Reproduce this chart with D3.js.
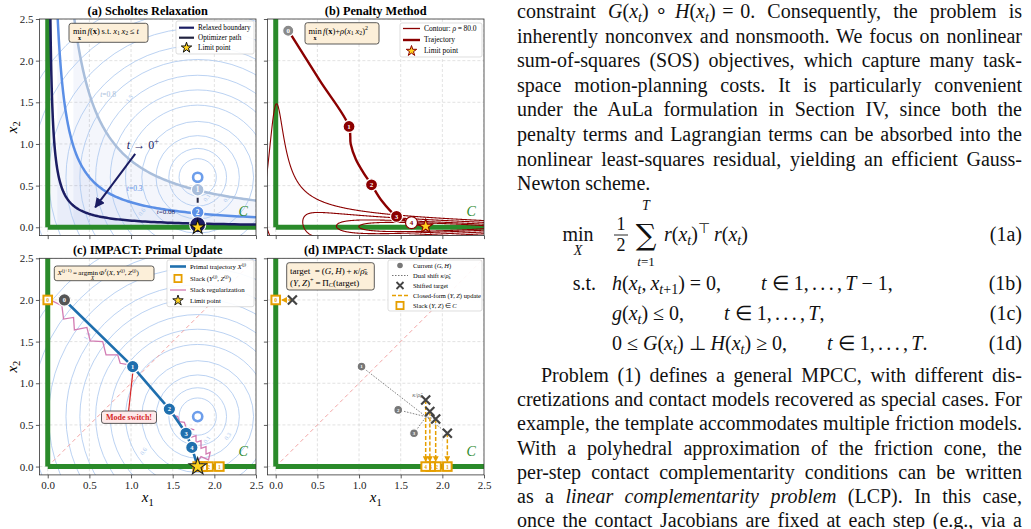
<!DOCTYPE html>
<html>
<head>
<meta charset="utf-8">
<script src="https://cdn.jsdelivr.net/npm/d3@7/dist/d3.min.js"></script>
<style>
  body { margin: 0; background: #fff; }
  svg text { font-family: "Liberation Serif", "Times New Roman", serif; }
</style>
</head>
<body>
<svg id="page" width="1031" height="529"></svg>
<script>
// ---- values ----
var ticks = [0, 0.5, 1, 1.5, 2, 2.5];
var target = [1.8, 0.6];
var fLevels = [0.05, 0.12, 0.25, 0.45, 0.75, 1.1, 1.5, 2.0, 2.5, 3.2, 4.0, 5.0];
var fLabelsA = [["0.1", 1.93, 0.34], ["0.3", 2.17, 0.33], ["0.6", 1.15, 0.17], ["1.5", 1.0, 1.53]];
var fLabelsC = [["0.1", 1.93, 0.31], ["0.3", 2.18, 0.35], ["0.6", 1.17, 0.17], ["1.5", 0.49, 1.55]];
var relaxT = [0.8, 0.3, 0.08];
var relaxLabels = ["t=0.8", "t=0.3", "t=0.08"];
var relaxLabelPos = [[0.63, 1.56], [0.95, 0.43], [1.31, 0.16]];
var scholtesIter = [[1.8, 0.45], [1.8, 0.18], [1.8, 0.03]];
var limitPoint = [1.8, 0.0];
var rho = 80;
var penaltyLevels = [1.0, 1.5, 2.5, 4.0];
var penaltyPath = [[0.19, 2.30], [0.53, 1.76], [0.88, 1.21], [0.90, 1.00], [0.96, 0.82], [1.05, 0.66],
                   [1.15, 0.51], [1.27, 0.32], [1.45, 0.13], [1.63, 0.055], [1.80, 0.01]];
var penaltyIter = [[0.15, 2.36], [0.88, 1.21], [1.15, 0.51], [1.45, 0.13], [1.63, 0.055]];
var primalIter = [[0.2, 2.0], [1.02, 1.2], [1.46, 0.69], [1.66, 0.40], [1.73, 0.23]];
var slackRegUpper = [[0.03, 2.0], [0.17, 1.93], [0.19, 1.77], [0.31, 1.79], [0.32, 1.64], [0.47, 1.67],
                     [0.51, 1.51], [0.66, 1.50], [0.70, 1.34], [0.84, 1.34], [0.87, 1.24], [0.98, 1.22]];
var slackRegLower = [[1.49, 0.62], [1.56, 0.60], [1.58, 0.54], [1.64, 0.53], [1.66, 0.47], [1.76, 0.44]];
var slackRegTail = [[1.72, 0.35], [1.78, 0.37], [1.78, 0.29], [1.84, 0.31], [1.84, 0.22], [1.90, 0.24],
                    [1.90, 0.15], [1.95, 0.17], [1.93, 0.08], [1.84, 0.12], [1.80, 0.06]];
var slackPts = [[0, 2.0], [2.06, 0], [1.93, 0], [1.86, 0], [1.80, 0]];
var currentGH = [[1.03, 1.2], [1.47, 0.68], [1.66, 0.40]];
var shiftedTarget = [[0.2, 2.0], [2.06, 0.40], [1.92, 0.57], [1.85, 0.66], [1.80, 0.80]];

var GREEN = "#2a8a2a", NAVY = "#1b1d63", ORANGE = "#e69f00", DRED = "#8b0000",
    BLUE = "#1f6fae", PINK = "#d27bb2", RING = "#a9c7ef";
var relaxColors = ["#a9bedb", "#5b8fe6", NAVY];

var svg = d3.select("#page");
var defs = svg.append("defs");

function arrowMarker(id, color, w) {
  defs.append("marker").attr("id", id).attr("viewBox", "0 0 10 10").attr("refX", 9).attr("refY", 5)
    .attr("markerWidth", w).attr("markerHeight", w).attr("orient", "auto").attr("markerUnits", "userSpaceOnUse")
    .append("path").attr("d", "M0,0 L10,5 L0,10 z").attr("fill", color);
}
arrowMarker("arNavy", NAVY, 10);
arrowMarker("arOrange", ORANGE, 6);

// text with italic / sub / sup pieces
function rich(parent, x, y, parts, size, anchor) {
  var t = parent.append("text").attr("x", x).attr("y", y).attr("text-anchor", anchor || "start")
    .style("font-size", size + "px");
  var cur = 0;
  parts.forEach(function (p) {
    if (typeof p === "string") p = { t: p };
    var off = p.sub ? size * 0.22 : p.sup ? -size * 0.4 : 0;
    var s = t.append("tspan").text(p.t);
    if (off !== cur) { s.attr("dy", off - cur); cur = off; }
    var fs = (p.sub || p.sup) ? size * 0.7 : size;
    if (p.k) fs = size * p.k;
    if (fs !== size) s.style("font-size", fs + "px");
    if (p.i) s.style("font-style", "italic");
    if (p.b) s.style("font-weight", "bold");
    if (p.f) s.style("font-family", p.f);
  });
  return t;
}
function I(t) { return { t: t, i: 1 }; }
function SB(t, it) { return { t: t, sub: 1, i: it }; }
function SP(t, it) { return { t: t, sup: 1, i: it }; }

// text pieces in a row, with "min" operators that carry a small subscript below
function chain(parent, x, y, size, segs) {
  segs.forEach(function (sg) {
    if (sg.under) {
      var m = parent.append("text").attr("x", x).attr("y", y).style("font-size", size + "px").text(sg.op || "min");
      var w = m.node().getComputedTextLength();
      var u = parent.append("text").attr("x", x + w / 2).attr("y", y + size * 0.72)
        .attr("text-anchor", "middle").style("font-size", (size * 0.72) + "px").text(sg.under);
      if (sg.b) u.style("font-weight", "bold"); else u.style("font-style", "italic");
      x += w + size * 0.15;
    } else {
      var t = rich(parent, x, y, sg, size);
      x += t.node().getComputedTextLength();
    }
  });
}

var clipN = 0;
function panel(left, top) {
  var size = 216.6;
  var p = {
    left: left, top: top, size: size,
    x: d3.scaleLinear().domain([-0.1, 2.5]).range([left, left + size]),
    y: d3.scaleLinear().domain([-0.1, 2.5]).range([top + size, top])
  };
  var id = "clip" + (clipN++);
  defs.append("clipPath").attr("id", id).append("rect")
    .attr("x", left).attr("y", top).attr("width", size).attr("height", size);
  p.g = svg.append("g");
  p.inner = p.g.append("g").attr("clip-path", "url(#" + id + ")");
  var gg = p.inner.append("g").attr("stroke", "#d6d6d6").attr("stroke-width", 0.7).attr("stroke-dasharray", "3,2");
  ticks.forEach(function (t) {
    gg.append("line").attr("x1", p.x(t)).attr("x2", p.x(t)).attr("y1", top).attr("y2", top + size);
    gg.append("line").attr("y1", p.y(t)).attr("y2", p.y(t)).attr("x1", left).attr("x2", left + size);
  });
  return p;
}

function rings(p, labels) {
  p.inner.append("g").selectAll("circle").data(fLevels).enter().append("circle")
    .attr("cx", p.x(target[0])).attr("cy", p.y(target[1]))
    .attr("r", function (d) { return p.x(target[0] + Math.sqrt(d)) - p.x(target[0]); })
    .attr("fill", "none").attr("stroke", RING).attr("stroke-width", 0.8);
  labels.forEach(function (l) {
    p.inner.append("text").attr("x", p.x(l[1])).attr("y", p.y(l[2])).attr("text-anchor", "middle")
      .attr("transform", "rotate(-55," + p.x(l[1]) + "," + p.y(l[2]) + ")")
      .style("font-size", "6px").attr("fill", RING).text(l[0]);
  });
}

function feasibleSet(p) {
  p.inner.append("line").attr("x1", p.x(0)).attr("x2", p.x(0)).attr("y1", p.y(0)).attr("y2", p.y(2.5))
    .attr("stroke", GREEN).attr("stroke-width", 5);
  p.inner.append("line").attr("x1", p.x(0)).attr("x2", p.x(2.5)).attr("y1", p.y(0)).attr("y2", p.y(0))
    .attr("stroke", GREEN).attr("stroke-width", 5);
  p.g.append("text").attr("x", p.x(2.29)).attr("y", p.y(0.13)).style("font-size", "14px")
    .style("font-style", "italic").attr("fill", GREEN).text("C");
}

function diagonal(p) {
  p.inner.append("line").attr("x1", p.x(0)).attr("y1", p.y(0)).attr("x2", p.x(2.5)).attr("y2", p.y(2.5))
    .attr("stroke", "#f2a5a5").attr("stroke-width", 1).attr("stroke-dasharray", "4,3");
}

function frame(p, title, showX, showY) {
  p.g.append("rect").attr("x", p.left).attr("y", p.top).attr("width", p.size).attr("height", p.size)
    .attr("fill", "none").attr("stroke", "#333").attr("stroke-width", 0.8);
  var fmt = d3.format(".1f");
  var ax = p.g.append("g").attr("transform", "translate(0," + (p.top + p.size) + ")")
    .call(d3.axisBottom(p.x).tickValues(ticks).tickSize(3.5).tickPadding(2.5).tickFormat(showX ? fmt : ""));
  var ay = p.g.append("g").attr("transform", "translate(" + p.left + ",0)")
    .call(d3.axisLeft(p.y).tickValues(ticks).tickSize(3.5).tickPadding(2.5).tickFormat(showY ? fmt : ""));
  [ax, ay].forEach(function (a) {
    a.select(".domain").remove();
    a.selectAll("line").attr("stroke", "#333").attr("stroke-width", 0.8);
    a.selectAll("text").attr("fill", "#222").style("font-size", "11px");
  });
  var cx = p.left + p.size / 2, cy = p.top + p.size / 2;
  p.g.append("text").attr("x", cx).attr("y", p.top - 4.5).attr("text-anchor", "middle")
    .style("font-size", "12.3px").style("font-weight", "bold").text(title);
  if (showX) rich(p.g, cx, p.top + p.size + 27.5, [I("x"), SB("1")], 15, "middle");
  if (showY) rich(p.g, 0, 0, [I("x"), SB("2")], 15, "middle")
    .attr("transform", "translate(17," + cy + ") rotate(-90)");
}

function starSize(r) { return r * r / 0.8908; }
function star(p, pt, r, stroke) {
  p.g.append("path").attr("d", d3.symbol(d3.symbolStar, starSize(r))())
    .attr("transform", "translate(" + p.x(pt[0]) + "," + p.y(pt[1]) + ")")
    .attr("fill", "#ffd21f").attr("stroke", stroke).attr("stroke-width", 1.1);
}
function numbered(p, pt, label, fill, r, fsize, stroke, txt) {
  var g = p.g.append("g").attr("transform", "translate(" + p.x(pt[0]) + "," + p.y(pt[1]) + ")");
  g.append("circle").attr("r", r).attr("fill", fill).attr("stroke", stroke || "#fff").attr("stroke-width", 1.2);
  g.append("text").attr("text-anchor", "middle").attr("dy", "0.35em").style("font-size", fsize + "px")
    .style("font-weight", "bold").attr("fill", txt || "#fff").text(label);
}
function hollowTarget(p) {
  p.g.append("circle").attr("cx", p.x(target[0])).attr("cy", p.y(target[1])).attr("r", 4.6)
    .attr("fill", "none").attr("stroke", "#6d9eeb").attr("stroke-width", 2.6);
}
function slackSquare(p, pt, label) {
  var g = p.g.append("g").attr("transform", "translate(" + p.x(pt[0]) + "," + p.y(pt[1]) + ")");
  g.append("rect").attr("x", -4.3).attr("y", -4.3).attr("width", 8.6).attr("height", 8.6)
    .attr("fill", "#fff").attr("stroke", ORANGE).attr("stroke-width", 2);
  g.append("text").attr("text-anchor", "middle").attr("dy", "0.35em").style("font-size", "5.5px")
    .style("font-weight", "bold").attr("fill", ORANGE).text(label);
}
function cross(parent, cx, cy, h, color, w) {
  parent.append("path").attr("d", "M" + (cx - h) + "," + (cy - h) + "L" + (cx + h) + "," + (cy + h) +
    "M" + (cx - h) + "," + (cy + h) + "L" + (cx + h) + "," + (cy - h))
    .attr("stroke", color).attr("stroke-width", w).attr("fill", "none");
}
function noteBox(parent, x, y, w, h, fill) {
  parent.append("rect").attr("x", x).attr("y", y).attr("width", w).attr("height", h).attr("rx", 2.5)
    .attr("fill", fill || "#fcefd9").attr("stroke", "#333").attr("stroke-width", 0.8);
}

// legend: rows = [{sym, color, label parts}]
function legend(parent, box, rows, rowY, symX, txtX, size) {
  parent.append("rect").attr("x", box[0]).attr("y", box[1]).attr("width", box[2]).attr("height", box[3])
    .attr("rx", 2).attr("fill", "#fff").attr("fill-opacity", 0.9).attr("stroke", "#d0d0d0").attr("stroke-width", 0.7);
  rows.forEach(function (r, i) {
    var yy = rowY[i], mid = (symX[0] + symX[1]) / 2;
    if (r.sym === "line") {
      parent.append("line").attr("x1", symX[0]).attr("x2", symX[1]).attr("y1", yy).attr("y2", yy)
        .attr("stroke", r.color).attr("stroke-width", r.w).attr("stroke-dasharray", r.dash || null);
    } else if (r.sym === "star") {
      parent.append("path").attr("d", d3.symbol(d3.symbolStar, starSize(5.5))())
        .attr("transform", "translate(" + mid + "," + yy + ")").attr("fill", "#ffd21f")
        .attr("stroke", r.color).attr("stroke-width", 1);
    } else if (r.sym === "square") {
      parent.append("rect").attr("x", mid - 3.6).attr("y", yy - 3.6).attr("width", 7.2).attr("height", 7.2)
        .attr("fill", "#fff").attr("stroke", r.color).attr("stroke-width", 1.8);
    } else if (r.sym === "dot") {
      parent.append("circle").attr("cx", mid).attr("cy", yy).attr("r", 2.8).attr("fill", r.color);
    } else if (r.sym === "x") {
      cross(parent, mid, yy, 3.5, r.color, 1.8);
    }
    rich(parent, txtX, yy + size * 0.33, r.label, size);
  });
}

// ================= (a) Scholtes relaxation =================
var pa = panel(39.4, 19);
function hyperbola(t) {
  var a = t / 2.6, pts = [];
  for (var k = 0; k <= 150; k++) { var u = a * Math.pow(2.6 / a, k / 150); pts.push([u, t / u]); }
  return pts;
}
relaxT.forEach(function (t) {
  pa.inner.append("path").datum(hyperbola(t))
    .attr("d", d3.area().x(function (d) { return pa.x(d[0]); }).y0(pa.y(0)).y1(function (d) { return pa.y(d[1]); }))
    .attr("fill", "#3c5fc0").attr("fill-opacity", 0.055);
});
rings(pa, fLabelsA);
feasibleSet(pa);
relaxT.forEach(function (t, i) {
  pa.inner.append("path").datum(hyperbola(t))
    .attr("d", d3.line().x(function (d) { return pa.x(d[0]); }).y(function (d) { return pa.y(d[1]); }))
    .attr("fill", "none").attr("stroke", relaxColors[i]).attr("stroke-width", 2.5);
  rich(pa.g, pa.x(relaxLabelPos[i][0]), pa.y(relaxLabelPos[i][1]),
    [I("t"), "=" + relaxLabels[i].split("=")[1]], i === 2 ? 7 : 7.5).attr("fill", i === 2 ? NAVY : relaxColors[i]);
});
pa.g.append("line").attr("x1", pa.x(1.05)).attr("y1", pa.y(0.88)).attr("x2", pa.x(0.57)).attr("y2", pa.y(0.24))
  .attr("stroke", NAVY).attr("stroke-width", 2).attr("marker-end", "url(#arNavy)");
rich(pa.g, pa.x(0.95), pa.y(0.94), [I("t"), " → 0", SP("+")], 12).attr("fill", NAVY);
pa.g.append("path").datum(scholtesIter)
  .attr("d", d3.line().x(function (d) { return pa.x(d[0]); }).y(function (d) { return pa.y(d[1]); }))
  .attr("fill", "none").attr("stroke", "#23243f").attr("stroke-width", 2).attr("stroke-dasharray", "5,3");
hollowTarget(pa);
numbered(pa, scholtesIter[0], "1", relaxColors[0], 6.3, 7.5);
numbered(pa, scholtesIter[1], "2", relaxColors[1], 6.3, 7.5);
numbered(pa, scholtesIter[2], "", NAVY, 8, 7.5);
star(pa, limitPoint, 7.5, "#111");
noteBox(pa.g, 69, 23.3, 79, 19);
chain(pa.g, 73, 33.5, 8.5, [{ under: "x", b: 1 }, [I("f"), "(", { t: "x", b: 1 }, ")\u2009s.t.\u2009", I("x"), SB("1"), "\u2009", I("x"), SB("2"), "\u2009≤\u2009", I("t")]]);
legend(pa.g, [176, 21, 78, 33], [
  { sym: "line", color: NAVY, w: 2.2, label: ["Relaxed boundary"] },
  { sym: "line", color: "#23243f", w: 2.2, label: ["Optimizer path"] },
  { sym: "star", color: "#111", label: ["Limit point"] }
], [27.7, 37.7, 47.7], [179, 194], 198, 7.2);
frame(pa, "(a) Scholtes Relaxation", false, true);

// ================= (b) Penalty method =================
var pb = panel(267.4, 19);
feasibleSet(pb);
(function () {
  var g0 = -0.4, g1 = 2.9, step = 0.005;
  var n = Math.round((g1 - g0) / step) + 1, vals = new Float64Array(n * n);
  for (var j = 0; j < n; j++) for (var i = 0; i < n; i++) {
    var a = g0 + i * step, b = g0 + j * step;
    vals[j * n + i] = (a - target[0]) * (a - target[0]) + (b - target[1]) * (b - target[1]) + rho * a * a * b * b;
  }
  var cs = d3.contours().size([n, n]).thresholds(penaltyLevels)(vals);
  var proj = d3.geoPath(d3.geoTransform({
    point: function (gx, gy) { this.stream.point(pb.x(g0 + (gx - 0.5) * step), pb.y(g0 + (gy - 0.5) * step)); }
  }));
  pb.inner.append("g").selectAll("path").data(cs).enter().append("path").attr("d", proj)
    .attr("fill", "none").attr("stroke", DRED).attr("stroke-width", 1.1);
})();
pb.g.append("path").datum(penaltyPath)
  .attr("d", d3.line().curve(d3.curveCatmullRom).x(function (d) { return pb.x(d[0]); }).y(function (d) { return pb.y(d[1]); }))
  .attr("fill", "none").attr("stroke", DRED).attr("stroke-width", 2.4);
penaltyIter.forEach(function (pt, i) {
  if (i === 0) numbered(pb, pt, "0", "#8a8a8a", 5.6, 7);
  else if (i === 4) numbered(pb, pt, "4", "#fff", 6, 7, DRED, DRED);
  else numbered(pb, pt, String(i), DRED, 6, 7);
});
star(pb, [1.8, 0.01], 7.5, DRED);
noteBox(pb.g, 305, 22.7, 74, 21.3);
chain(pb.g, 308.5, 33.5, 8.5, [{ under: "x", b: 1 }, [I("f"), "(", { t: "x", b: 1 }, ")+", I("ρ"), "(", I("x"), SB("1"), "\u2009", I("x"), SB("2"), ")", SP("2")]]);
legend(pb.g, [400, 23, 82, 34], [
  { sym: "line", color: DRED, w: 1.3, label: ["Contour: ", I("ρ"), "\u2009=\u200980.0"] },
  { sym: "line", color: DRED, w: 2.4, label: ["Trajectory"] },
  { sym: "star", color: DRED, label: ["Limit point"] }
], [28.5, 40, 51], [403, 420], 424, 7.5);
frame(pb, "(b) Penalty Method", false, false);

// ================= (c) IMPACT primal update =================
var pc = panel(39.4, 258.3);
rings(pc, fLabelsC);
diagonal(pc);
feasibleSet(pc);
[slackRegUpper, slackRegLower, slackRegTail].forEach(function (s) {
  pc.g.append("path").datum(s)
    .attr("d", d3.line().x(function (d) { return pc.x(d[0]); }).y(function (d) { return pc.y(d[1]); }))
    .attr("fill", "none").attr("stroke", PINK).attr("stroke-width", 1.3);
});
pc.g.append("path").datum(primalIter.concat([limitPoint]))
  .attr("d", d3.line().x(function (d) { return pc.x(d[0]); }).y(function (d) { return pc.y(d[1]); }))
  .attr("fill", "none").attr("stroke", BLUE).attr("stroke-width", 2.6);
pc.g.append("line").attr("x1", pc.x(1.02)).attr("y1", pc.y(1.12)).attr("x2", pc.x(0.97)).attr("y2", pc.y(0.66))
  .attr("stroke", "#d62728").attr("stroke-width", 1.2);
primalIter.forEach(function (pt, i) {
  numbered(pc, pt, String(i), i === 0 ? "#555" : BLUE, 6.2, 6.5);
});
hollowTarget(pc);
slackPts.forEach(function (pt, i) { slackSquare(pc, pt, String(i)); });
star(pc, limitPoint, 9, "#222");
noteBox(pc.g, 54.3, 266, 99.7, 14.7);
chain(pc.g, 57.5, 274.5, 7, [
  [I("X"), SP("(j+1)"), "\u2009=\u2009arg"],
  [" "],
  { under: "X" },
  [I("Φ"), SP("ℓ", 1), "(", I("X"), ",\u2009", I("Y"), SP("(j)"), ",\u2009", I("Z"), SP("(j)"), ")"]
]);
noteBox(pc.g, 101.5, 411, 55, 12.4, "#fdeaea");
pc.g.append("text").attr("x", 129).attr("y", 420).attr("text-anchor", "middle").style("font-size", "8px")
  .style("font-weight", "bold").attr("fill", "#d62728").text("Mode switch!");
legend(pc.g, [167, 260, 87, 46.7], [
  { sym: "line", color: BLUE, w: 2.6, label: ["Primal trajectory ", I("X"), SP("(j)")] },
  { sym: "square", color: ORANGE, label: ["Slack (", I("Y"), SP("(j)"), ",\u2009", I("Z"), SP("(j)"), ")"] },
  { sym: "line", color: PINK, w: 1.3, label: ["Slack regularization"] },
  { sym: "star", color: "#222", label: ["Limit point"] }
], [266.5, 278.5, 290, 300.5], [170, 186], 190, 6.8);
frame(pc, "(c) IMPACT: Primal Update", true, true);

// ================= (d) IMPACT slack update =================
var pd = panel(267.4, 258.3);
diagonal(pd);
feasibleSet(pd);
currentGH.forEach(function (pt, i) {
  pd.g.append("line").attr("x1", pd.x(pt[0])).attr("y1", pd.y(pt[1]))
    .attr("x2", pd.x(shiftedTarget[i + 1][0])).attr("y2", pd.y(shiftedTarget[i + 1][1]))
    .attr("stroke", "#666").attr("stroke-width", 0.8).attr("stroke-dasharray", "1.6,1.4");
});
shiftedTarget.forEach(function (pt, i) {
  var end = i === 0 ? [pd.x(0.07), pd.y(pt[1])] : [pd.x(pt[0]), pd.y(0.06)];
  pd.g.append("line").attr("x1", pd.x(pt[0])).attr("y1", pd.y(pt[1])).attr("x2", end[0]).attr("y2", end[1])
    .attr("stroke", ORANGE).attr("stroke-width", 1.5).attr("stroke-dasharray", "4,2")
    .attr("marker-end", "url(#arOrange)");
});
currentGH.forEach(function (pt, i) {
  numbered(pd, pt, String(i + 1), "#777", 4.4, 5, "#fff");
});
shiftedTarget.forEach(function (pt) { cross(pd.g, pd.x(pt[0]), pd.y(pt[1]), 4.5, "#444", 2.2); });
slackPts.forEach(function (pt, i) { slackSquare(pd, pt, String(i)); });
rich(pd.g, pd.x(1.76), pd.y(0.84), [I("κ"), "/", I("ρ̃"), SB("k", 1)], 6.5, "end").attr("fill", "#666");
noteBox(pd.g, 286.7, 262.7, 87.6, 27.3);
rich(pd.g, 290, 273.5, ["target\u2002=\u2009(", I("G"), ",\u2009", I("H"), ")\u2009+\u2009", I("κ"), "/", I("ρ̄"), SB("k", 1)], 9);
rich(pd.g, 290, 285.5, ["(", I("Y"), ",\u2009", I("Z"), ")", SP("+"), "\u2009=\u2009Π", SB("C", 1), "(target)"], 9);
legend(pd.g, [388, 260, 94, 51], [
  { sym: "dot", color: "#777", label: ["Current (", I("G"), ",\u2009", I("H"), ")"] },
  { sym: "line", color: "#666", w: 0.9, dash: "1.5,1.5", label: ["Dual shift ", I("κ"), "/", I("ρ̃"), SB("k", 1)] },
  { sym: "x", color: "#444", label: ["Shifted target"] },
  { sym: "line", color: ORANGE, w: 1.5, dash: "4,2", label: ["Closed-form (", I("Y"), ",\u2009", I("Z"), ") update"] },
  { sym: "square", color: ORANGE, label: ["Slack (", I("Y"), ",\u2009", I("Z"), ")\u2009∈\u2009", I("C")] }
], [265.5, 275.5, 285.5, 295.5, 305.5], [392, 408], 413, 6.5);
frame(pd, "(d) IMPACT: Slack Update", true, false);

// ================= body text =================
var colL = 517, colR = 1022, bodySize = 20;
var xt = [I("x"), SB("t", 1)];
var para1 = [
  ["constraint ", I("G"), "("].concat(xt, [")\u2004∘\u2004", I("H"), "("], xt, [")\u2004=\u20040. Consequently, the problem is"]),
  ["inherently nonconvex and nonsmooth. We focus on nonlinear"],
  ["sum-of-squares (SOS) objectives, which capture many task-"],
  ["space motion-planning costs. It is particularly convenient"],
  ["under the AuLa formulation in Section IV, since both the"],
  ["penalty terms and Lagrangian terms can be absorbed into the"],
  ["nonlinear least-squares residual, yielding an efficient Gauss-"],
  ["Newton scheme."]
];
var para2 = [
  ["Problem (1) defines a general MPCC, with different dis-"],
  ["cretizations and contact models recovered as special cases. For"],
  ["example, the template accommodates multiple friction models."],
  ["With a polyhedral approximation of the friction cone, the"],
  ["per-step contact complementarity conditions can be written"],
  ["as a ", I("linear complementarity problem"), " (LCP). In this case,"],
  ["once the contact Jacobians are fixed at each step (e.g., via a"]
];
function bodyLine(x0, y, parts, justify) {
  var t = rich(svg, x0, y, parts, bodySize).attr("fill", "#111");
  if (justify) {
    var w = t.node().getComputedTextLength();
    var n = (t.text().match(/ /g) || []).length;
    if (n) t.style("word-spacing", ((colR - x0 - w) / n) + "px");
  }
}
para1.forEach(function (l, i) { bodyLine(colL, 18 + 24.6 * i, l, i < para1.length - 1); });
para2.forEach(function (l, i) { bodyLine(i === 0 ? colL + 24 : colL, 382 + 24.2 * i, l, true); });

// display equation (1)
var eq = svg.append("g").attr("fill", "#111");
var dots = "\u2005∈\u20051,\u2006.\u2006.\u2006.\u2006,\u2006";
eq.append("text").attr("x", 578).attr("y", 241).attr("text-anchor", "middle").style("font-size", "20px").text("min");
rich(eq, 578, 255, [I("X")], 14, "middle");
eq.append("text").attr("x", 621).attr("y", 230).attr("text-anchor", "middle").style("font-size", "18px").text("1");
eq.append("line").attr("x1", 614).attr("x2", 628).attr("y1", 235).attr("y2", 235).attr("stroke", "#111").attr("stroke-width", 0.9);
eq.append("text").attr("x", 621).attr("y", 251).attr("text-anchor", "middle").style("font-size", "18px").text("2");
eq.append("text").attr("x", 646).attr("y", 245).attr("text-anchor", "middle").style("font-size", "29px")
  .style("font-family", "'DejaVu Serif', serif").text("∑");
rich(eq, 646, 210, [I("T")], 14, "middle");
rich(eq, 646, 266, [I("t"), "=1"], 13, "middle");
rich(eq, 664, 241, [I("r"), "("].concat(xt, [")", SP("⊤"), "\u2009", I("r"), "("], xt, [")"]), 20);
eq.append("text").attr("x", colR).attr("y", 241).attr("text-anchor", "end").style("font-size", "20px").text("(1a)");
eq.append("text").attr("x", 596).attr("y", 290).attr("text-anchor", "end").style("font-size", "20px").text("s.t.");
rich(eq, 612, 290, [I("h"), "("].concat(xt, [",\u2009", I("x"), SB("t", 1), SB("+1")],
  [")\u2005=\u20050,\u2003\u2003", I("t"), dots, I("T"), "\u2005−\u20051,"]), 20);
eq.append("text").attr("x", colR).attr("y", 290).attr("text-anchor", "end").style("font-size", "20px").text("(1b)");
rich(eq, 612, 320, [I("g"), "("].concat(xt, [")\u2005≤\u20050,\u2003\u2003", I("t"), dots, I("T"), ","]), 20);
eq.append("text").attr("x", colR).attr("y", 320).attr("text-anchor", "end").style("font-size", "20px").text("(1c)");
rich(eq, 612, 350, ["0\u2005≤\u2005", I("G"), "("].concat(xt, [")\u2005⊥\u2005", I("H"), "("], xt,
  [")\u2005≥\u20050,\u2003\u2003", I("t"), dots, I("T"), "."]), 20);
eq.append("text").attr("x", colR).attr("y", 350).attr("text-anchor", "end").style("font-size", "20px").text("(1d)");
</script>
</body>
</html>
